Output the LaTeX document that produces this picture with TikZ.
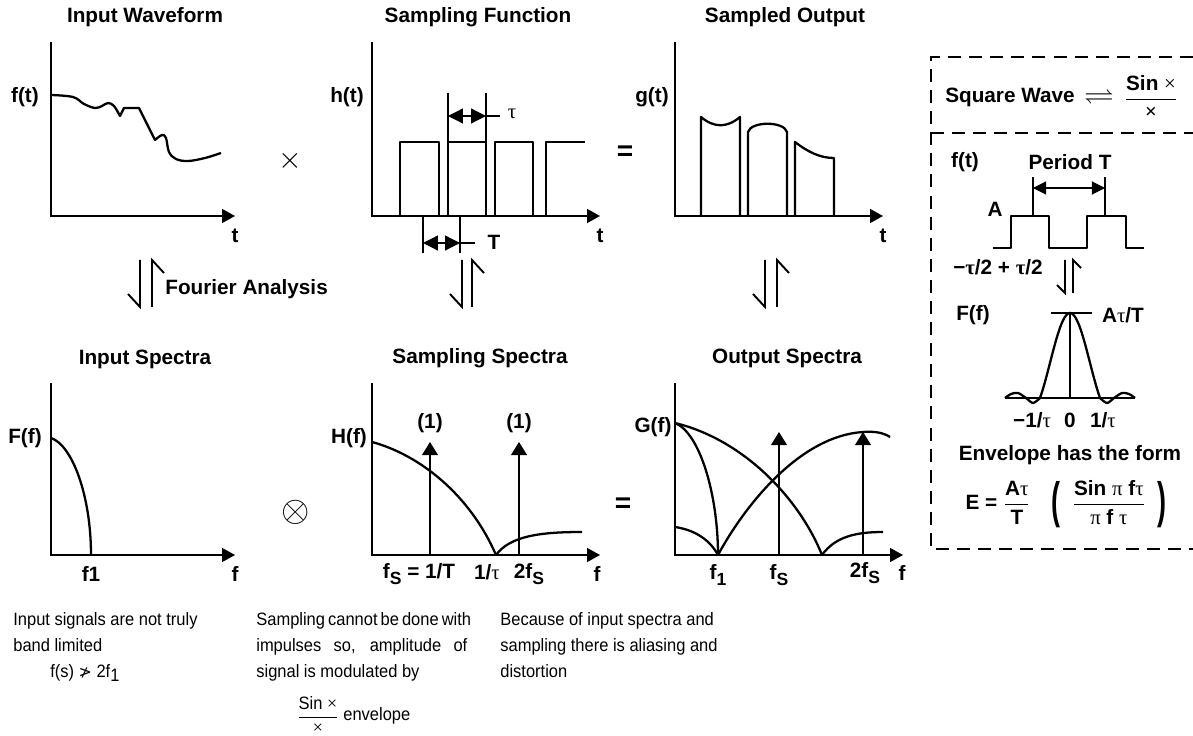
\documentclass[tikz,border=0pt]{standalone}
\usepackage{amsmath,amssymb}
\usepackage{fontspec}
\setmainfont{Liberation Sans}
\newfontfamily\serfont{Liberation Serif}
\newfontfamily\narrowfont{Liberation Sans}[FakeStretch=0.92]
\newfontfamily\djvfont{DejaVu Sans}
\usetikzlibrary{arrows.meta}
\newcommand\tauch{{\serfont τ}}
\newcommand\pich{{\serfont π}}
\newcommand\timesch{{\serfont ×}}
\newcommand\lowsub[1]{\raisebox{-0.5ex}{\fontsize{10}{10}\selectfont #1}}
\newcommand\bigparen[1]{\vcenter{\hbox{\scalebox{1.3}[2.4]{\bfseries #1}}}}

\begin{document}
\begin{tikzpicture}[x=0.02cm,y=-0.02cm,
  axis/.style={line width=0.7pt,-{Triangle[length=7.4pt,width=8pt]}},
  curve/.style={line width=1.3pt,line join=round},
  imp/.style={line width=0.7pt,-{Triangle[length=7.4pt,width=9pt]}},
  dimarr/.style={line width=0.7pt,{Triangle[length=8.5pt,width=8.5pt]}-{Triangle[length=8.5pt,width=8.5pt]}},
  tick/.style={line width=0.6pt},
  harp/.style={line width=1.1pt},
  lbl/.style={font=\bfseries\fontsize{11.8}{13}\selectfont,inner sep=0pt},
  note/.style={font=\narrowfont\fontsize{10.2}{14.8}\selectfont,inner sep=0pt,anchor=base west},
  dashbox/.style={line width=1.1pt,dash pattern=on 7.4pt off 4.6pt}]
\useasboundingbox (0,0) rectangle (1193,736);
%\draw[help lines,step=50] (0,0) grid (1193,736);

% input waveform
\node[lbl] (ttlwave) at (145,17) {Input Waveform};
\draw[axis] (51,42) -- (51,216) -- (235,216);
\node[lbl] (ft) at (25,97) {f(t)};
\node[lbl] (tw) at (235,236) {t};
\draw[curve] plot[smooth,tension=0.6] coordinates {(51,95) (73,97) (84,104) (95,108) (102,106) (108,103) (114,106) (120,116)}
  -- (124,108) -- (139,108) -- plot[smooth,tension=0.6] coordinates {(155,140) (162,135) (166,138) (169,152) (176,159) (188,161) (205,158) (221,153)};
\node[font=\fontsize{16}{16}\selectfont,inner sep=0pt] (mul) at (290,161) {$\times$};

% sampling function
\node[lbl] (ttlsamp) at (478,17) {Sampling Function};
\draw[axis] (372,42) -- (372,216) -- (600,216);
\node[lbl] (ht) at (347,97) {h(t)};
\node[lbl] (ts) at (600,236) {t};
\foreach \a/\b in {400/439,448/486,495/533}
  \draw[curve] (\a,216) |- (\b,142) -- (\b,216);
\draw[curve] (546,216) |- (585,142);
\draw[tick] (448,93) -- (448,142) (486,93) -- (486,142);
\draw[dimarr] (448,116) -- (486,116);
\draw[tick] (486,116) -- (500,116);
\node[lbl] (taulbl) at (512,114) {\mdseries\tauch};
\draw[tick] (423,216) -- (423,253) (460,216) -- (460,253);
\draw[dimarr] (423,243) -- (460,243);
\draw[tick] (460,243) -- (475,243);
\node[lbl] (Tlbl) at (494,242) {T};
\node[lbl,font=\bfseries\fontsize{16}{16}\selectfont] (eqtop) at (625,153) {=};

% sampled output
\node[lbl] (ttlout) at (785,17) {Sampled Output};
\draw[axis] (675,42) -- (675,216) -- (883,216);
\node[lbl] (gt) at (652,97) {g(t)};
\node[lbl] (to) at (883,236) {t};
\draw[curve] (701,216) -- (701,117) .. controls (714,128) and (727,128) .. (740,117) -- (740,216);
\draw[curve] (748,216) -- (748,132) .. controls (751,121) and (784,121) .. (787,132) -- (787,216);
\draw[curve] (795,216) -- (795,142) .. controls (808,152) and (820,158) .. (834,158) -- (834,216);

% transform arrows
\foreach \hx/\hd in {146/6,467/5,771/6} {
  \draw[harp] (\hx-\hd,260) -- (\hx-\hd,307) -- (\hx-\hd-12,294);
  \draw[harp] (\hx+\hd,307) -- (\hx+\hd,260) -- (\hx+\hd+12,273);
}
\node[lbl,anchor=west] (fourier) at (165,289) {Fourier Analysis};

% input spectra
\node[lbl] (ttlinsp) at (145,359) {Input Spectra};
\draw[axis] (51,383) -- (51,555) -- (235,555);
\node[lbl] (Ff) at (25,438) {F(f)};
\node[lbl] (fone) at (91,574) {f1};
\node[lbl] (fin) at (235,574) {f};
\draw[curve] (51,438) .. controls (72,445) and (91,495) .. (91,555);
\node[font=\fontsize{21}{21}\selectfont,inner sep=0pt] (conv) at (296,512) {$\otimes$};

% sampling spectra
\node[lbl] (ttlsmsp) at (480,358) {Sampling Spectra};
\draw[axis] (372,383) -- (372,555) -- (600,555);
\node[lbl] (Hf) at (349,438) {H(f)};
\draw[curve] (372,442) .. controls (420,455) and (470,495) .. (496,555);
\draw[curve] (496,555) .. controls (510,536) and (540,532) .. (582,532);
\draw[imp] (430,555) -- (430,442);
\draw[imp] (519,555) -- (519,442);
\node[lbl] (wone) at (430,423) {(1)};
\node[lbl] (wtwo) at (519,423) {(1)};
\node[lbl] (fsT) at (419,574) {f\lowsub{S} = 1/T};
\node[lbl] (itau) at (487,572) {1/\mdseries\tauch};
\node[lbl] (tfs) at (529,574) {2f\lowsub{S}};
\node[lbl] (fsm) at (597,574) {f};
\node[lbl,font=\bfseries\fontsize{16}{16}\selectfont] (eqbot) at (623,505) {=};

% output spectra
\node[lbl] (ttloutsp) at (787,358) {Output Spectra};
\draw[axis] (675,383) -- (675,555) -- (903,555);
\node[lbl] (Gf) at (653,427) {G(f)};
\draw[curve] (675,423) .. controls (700,433) and (718,495) .. (718,555);
\draw[curve] (675,527) .. controls (695,530) and (710,540) .. (718,555);
\draw[curve] (675,423) .. controls (745,440) and (800,500) .. (822,555);
\draw[curve] (718,555) .. controls (745,505) and (800,436) .. (863,432) .. controls (875,431) and (884,433) .. (890,437);
\draw[curve] (822,555) .. controls (835,537) and (855,532) .. (883,532);
\draw[imp] (779,555) -- (779,432);
\draw[imp] (863,555) -- (863,432);
\node[lbl] (fo1) at (718,575) {f\lowsub{1}};
\node[lbl] (fos) at (779,575) {f\lowsub{S}};
\node[lbl] (fo2s) at (865,573) {2f\lowsub{S}};
\node[lbl] (fout) at (902,573) {f};

% notes
\node[note] (n1a) at (13,625) {Input signals are not truly};
\node[note] (n1b) at (13,651) {band limited};
\node[note] (n1c) at (50,677) {f(s) {\djvfont\fontsize{9}{9}\selectfont ≯} 2f\lowsub{\fontsize{10.2}{10}\selectfont 1}};
\node[note] (n2a) at (256,625) {\makebox[4.22cm][s]{Sampling cannot be done with}};
\node[note] (n2b) at (256,651) {\makebox[4.22cm][s]{impulses so, amplitude of}};
\node[note] (n2c) at (256,677) {signal is modulated by};
\node[font=\narrowfont\fontsize{10.2}{12}\selectfont,inner sep=0pt] (n2fr) at (318,715) {$\dfrac{\mbox{\narrowfont Sin \timesch}}{\mbox{\timesch}}$};
\node[note] (n2d) at (343,720) {envelope};
\node[note] (n3a) at (500,625) {Because of input spectra and};
\node[note] (n3b) at (500,651) {sampling there is aliasing and};
\node[note] (n3c) at (500,677) {distortion};

% square wave box
\draw[dashbox] (1193,57) -- (931,57) -- (931,549) -- (1193,549);
\draw[dashbox] (931,133) -- (1193,133);
\node[lbl] (sqw) at (1010,97) {Square Wave};
\node[inner sep=0pt] (sqeq) at (1099,97) {\scalebox{1.7}[1.5]{$\rightleftharpoons$}};
\node[lbl] (sqfr) at (1151,97) {$\dfrac{\mbox{\bfseries Sin \mdseries\timesch}}{\mbox{\timesch}}$};
\node[lbl] (bft) at (965,162) {f(t)};
\node[lbl] (per) at (1070,162) {Period T};
\draw[tick] (1033,177) -- (1033,216) (1105,177) -- (1105,216);
\draw[line width=0.6pt,{Triangle[length=7.5pt,width=7.5pt]}-{Triangle[length=7.5pt,width=7.5pt]}] (1033,188) -- (1105,188);
\node[lbl] (amp) at (995,209) {A};
\draw[curve] (993,248) -- (1011,248) -- (1011,216) -- (1049,216) -- (1049,248) -- (1087,248) -- (1087,216) -- (1126,216) -- (1126,248) -- (1144,248);
\node[lbl] (wid) at (998,267) {−\tauch/2 + \tauch/2};
\draw[harp] (1065,260) -- (1065,293) -- (1057,285);
\draw[harp] (1073,293) -- (1073,260) -- (1081,268);
\node[lbl] (bFf) at (973,315) {F(f)};
\node[lbl] (peak) at (1123,315) {A\mdseries\tauch\bfseries/T};
\draw[curve] (1051,313) -- (1092,313);
\draw[curve] (1070,313) -- (1070,398);
\draw[curve] (1005,398) -- (1135,398);
\draw[curve] plot[smooth] coordinates {(1005,398) (1011,394) (1018,393) (1026,398) (1033,403) (1040,398)};
\draw[curve] plot[domain=-1:1,samples=40,smooth] ({1070+30*\x},{398-85*sin(180*\x)/(pi*\x)});
\draw[curve] plot[smooth] coordinates {(1100,398) (1107,403) (1114,398) (1122,393) (1129,394) (1135,398)};
\node[lbl] (zm) at (1032,420) {−1/\mdseries\tauch};
\node[lbl] (zz) at (1070,420) {0};
\node[lbl] (zp) at (1103,420) {1/\mdseries\tauch};
\node[lbl] (envt) at (1070,455) {Envelope has the form};
\node[lbl] (envf) at (1066,504) {E = $\dfrac{\mbox{\bfseries A\mdseries\tauch}}{\mbox{\bfseries T}}\quad\bigparen{(}\;\;\dfrac{\mbox{\bfseries Sin \mdseries\pich\ \bfseries f\mdseries\tauch}}{\mbox{\mdseries\pich\ \bfseries f \mdseries\tauch}}\;\;\bigparen{)}$};
\end{tikzpicture}
\end{document}
